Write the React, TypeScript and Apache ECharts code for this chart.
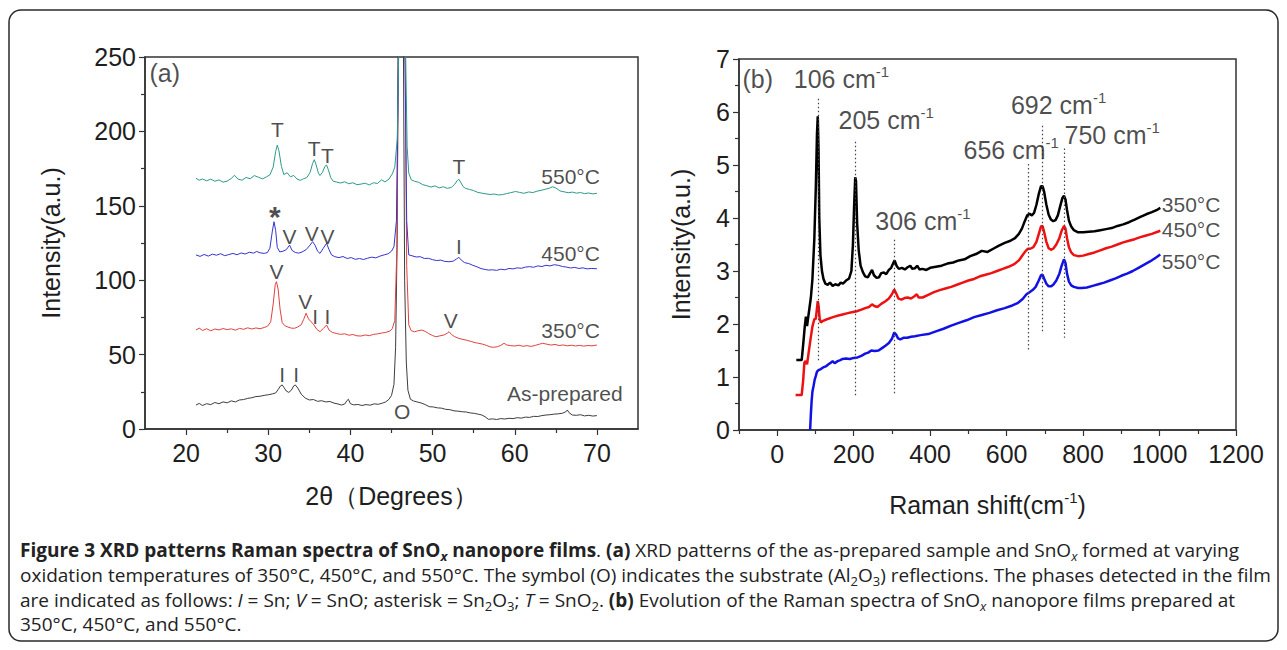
import React, { useEffect, useRef } from 'react';
import * as echarts from 'echarts';

// ---------------- Panel (a): XRD ----------------
const xrdXTicks = [20, 30, 40, 50, 60, 70];
const xrdXMinor = [25, 35, 45, 55, 65];

const xrdAsPrepared = [
  [21.2, 16.1], [21.6, 17.2], [22.0, 15.8], [22.5, 17.0], [23.0, 16.4], [23.5, 17.8], [24.0, 17.0], [24.5, 18.2],
  [25.0, 17.6], [25.5, 18.9], [26.0, 18.2], [26.5, 19.5], [27.0, 19.8], [27.5, 20.6], [28.0, 21.0], [28.5, 21.8],
  [29.0, 22.0], [29.5, 22.6], [30.0, 23.0], [30.5, 23.6], [30.9, 24.2], [31.2, 26.5], [31.5, 29.0], [31.7, 29.6],
  [31.9, 28.0], [32.2, 25.5], [32.5, 24.6], [32.8, 26.0], [33.1, 29.0], [33.3, 29.6], [33.6, 27.5], [34.0, 23.5],
  [34.5, 20.8], [35.0, 19.5], [35.5, 19.8], [36.0, 18.6], [36.5, 19.0], [37.0, 18.2], [37.5, 18.5], [38.0, 17.4],
  [38.5, 16.8], [38.9, 16.1], [39.3, 16.8], [39.6, 19.2], [39.75, 20.0], [40.0, 17.0], [40.4, 16.2], [40.9, 16.5],
  [41.4, 15.8], [41.9, 16.4], [42.4, 16.0], [42.9, 16.9], [43.4, 16.6], [43.9, 17.4], [44.3, 18.2], [44.7, 20.0],
  [45.0, 22.5], [45.3, 30], [45.5, 55], [45.7, 130], [45.9, 400], [46.1, 900], [46.3, 700], [46.45, 260],
  [46.6, 100], [46.8, 45], [47.0, 26], [47.3, 20.0], [47.7, 18.8], [48.1, 18.2], [48.6, 17.5], [49.1, 16.4],
  [49.6, 15.0], [50.1, 14.8], [50.6, 14.2], [51.1, 14.0], [51.6, 13.2], [52.1, 13.0], [52.6, 12.2], [53.1, 12.0],
  [53.6, 11.6], [54.1, 11.4], [54.6, 10.8], [55.1, 10.5], [55.6, 9.9], [56.0, 9.4], [56.4, 8.2], [56.8, 6.5],
  [57.3, 6.8], [57.8, 6.4], [58.3, 7.0], [58.8, 6.7], [59.3, 7.2], [59.8, 7.0], [60.3, 7.6], [60.8, 7.3],
  [61.3, 8.0], [61.8, 7.8], [62.3, 8.5], [62.8, 8.4], [63.3, 9.0], [63.8, 9.4], [64.3, 9.6], [64.8, 10.0],
  [65.3, 10.2], [65.8, 10.6], [66.2, 11.5], [66.4, 12.8], [66.6, 11.0], [67.0, 9.4], [67.5, 9.2], [68.0, 9.6],
  [68.5, 8.8], [69.0, 9.2], [69.5, 8.7], [70.0, 9.0],
];

const xrd350 = [
  [21.2, 66.5], [21.6, 67.8], [22.0, 66.2], [22.5, 67.4], [23.0, 66.0], [23.5, 67.2], [24.0, 66.6], [24.5, 67.5],
  [25.0, 66.8], [25.5, 67.3], [26.0, 66.4], [26.5, 67.6], [27.0, 67.0], [27.5, 68.0], [28.0, 67.2], [28.5, 67.9],
  [29.0, 67.4], [29.5, 68.2], [29.9, 69.0], [30.3, 72.0], [30.6, 84.0], [30.85, 97.0], [31.0, 99.0], [31.2, 94.0],
  [31.45, 80.0], [31.7, 71.5], [32.0, 69.5], [32.4, 68.5], [32.8, 67.8], [33.2, 67.7], [33.6, 68.6], [34.0, 70.0],
  [34.3, 73.5], [34.6, 77.8], [34.9, 74.0], [35.2, 72.1], [35.5, 70.5], [35.9, 67.0], [36.3, 65.4], [36.7, 67.5],
  [37.1, 69.9], [37.4, 66.5], [37.8, 64.9], [38.3, 64.2], [38.8, 63.6], [39.3, 64.0], [39.8, 63.0], [40.3, 63.5],
  [40.8, 62.6], [41.3, 62.5], [41.8, 63.2], [42.3, 62.7], [42.8, 63.6], [43.3, 63.9], [43.8, 64.5], [44.3, 64.9],
  [44.8, 65.8], [45.1, 67.5], [45.4, 73], [45.65, 120], [45.85, 250], [46.05, 520], [46.25, 640], [46.45, 520],
  [46.65, 250], [46.85, 110], [47.1, 70], [47.4, 66.1], [47.8, 65.3], [48.2, 66.0], [48.7, 66.5], [49.1, 65.6],
  [49.5, 64.2], [50.0, 62.8], [50.4, 62.0], [50.9, 62.6], [51.4, 63.2], [51.8, 64.4], [52.0, 65.4], [52.3, 63.5],
  [52.7, 62.0], [53.2, 60.9], [53.7, 60.2], [54.2, 59.6], [54.7, 58.8], [55.2, 58.0], [55.6, 57.6], [56.1, 57.0],
  [56.6, 56.1], [57.0, 55.2], [57.4, 54.9], [57.9, 55.3], [58.3, 56.2], [58.7, 57.6], [59.0, 56.5], [59.5, 56.0],
  [60.0, 55.8], [60.5, 56.3], [61.0, 55.6], [61.5, 56.0], [62.0, 55.5], [62.5, 56.2], [63.0, 57.0], [63.4, 57.6],
  [63.9, 57.0], [64.4, 56.4], [64.9, 56.8], [65.4, 56.1], [65.9, 56.5], [66.4, 55.9], [66.9, 56.3], [67.4, 55.8],
  [67.9, 56.2], [68.4, 55.7], [68.9, 56.1], [69.4, 55.9], [70.0, 56.4],
];

const xrd450 = [
  [21.2, 117.0], [21.7, 116.0], [22.2, 117.3], [22.7, 116.2], [23.2, 117.5], [23.7, 116.8], [24.2, 117.8], [24.7, 116.5],
  [25.2, 117.2], [25.7, 118.0], [26.2, 117.1], [26.7, 118.3], [27.2, 117.6], [27.7, 118.8], [28.2, 118.2], [28.6, 119.3],
  [29.0, 118.4], [29.5, 118.0], [29.9, 118.6], [30.2, 121.5], [30.5, 133.0], [30.7, 139.3], [30.9, 133.5], [31.1, 122.0],
  [31.4, 119.0], [31.8, 119.5], [32.2, 120.5], [32.6, 123.6], [32.9, 120.0], [33.3, 118.6], [33.7, 118.2], [34.1, 118.9],
  [34.6, 120.5], [35.0, 123.0], [35.4, 125.9], [35.7, 123.5], [36.0, 119.5], [36.3, 118.0], [36.7, 121.5], [37.1, 124.8],
  [37.4, 120.5], [37.7, 117.0], [38.1, 115.8], [38.6, 115.2], [39.1, 115.9], [39.6, 114.6], [40.1, 115.2], [40.6, 114.0],
  [41.1, 114.6], [41.6, 113.9], [42.1, 114.8], [42.6, 115.5], [43.1, 115.0], [43.6, 116.2], [44.1, 117.0], [44.6, 117.8],
  [45.0, 119.5], [45.3, 122.5], [45.6, 140], [45.85, 250], [46.05, 520], [46.25, 640], [46.45, 520], [46.65, 250],
  [46.85, 140], [47.1, 117.0], [47.5, 116.4], [48.0, 115.6], [48.5, 115.8], [49.0, 114.6], [49.5, 114.7], [50.0, 113.8],
  [50.5, 113.2], [51.0, 113.5], [51.5, 112.6], [52.0, 112.4], [52.5, 112.8], [52.9, 114.2], [53.2, 115.4], [53.5, 113.5],
  [53.9, 111.8], [54.4, 111.2], [54.9, 110.0], [55.4, 109.0], [55.9, 107.8], [56.4, 107.2], [56.8, 106.8], [57.3, 107.0],
  [57.8, 106.6], [58.3, 107.4], [58.8, 107.0], [59.3, 107.9], [59.8, 107.6], [60.3, 108.3], [60.8, 108.0], [61.3, 108.8],
  [61.8, 109.1], [62.3, 108.7], [62.8, 109.6], [63.3, 109.2], [63.8, 110.0], [64.3, 109.6], [64.8, 110.4], [65.3, 110.0],
  [65.8, 109.2], [66.3, 108.8], [66.8, 108.2], [67.3, 108.6], [67.8, 107.9], [68.3, 108.3], [68.8, 107.6], [69.3, 107.9],
  [70.0, 107.7],
];

const xrd550 = [
  [21.2, 168.5], [21.6, 167.2], [22.0, 168.0], [22.5, 166.8], [23.0, 167.9], [23.5, 166.5], [24.0, 167.4], [24.5, 165.9],
  [25.0, 166.6], [25.5, 168.4], [25.9, 170.5], [26.3, 168.0], [26.8, 167.2], [27.3, 169.0], [27.8, 168.2], [28.3, 170.3],
  [28.8, 169.2], [29.3, 168.1], [29.8, 169.5], [30.2, 170.8], [30.6, 176.0], [30.9, 186.5], [31.1, 190.8], [31.3, 187.0],
  [31.6, 176.5], [31.9, 171.0], [32.3, 172.2], [32.7, 169.5], [33.1, 170.4], [33.5, 168.0], [33.9, 167.1], [34.3, 168.2],
  [34.7, 169.0], [35.1, 172.5], [35.4, 178.5], [35.6, 181.0], [35.8, 178.0], [36.1, 172.0], [36.3, 170.4], [36.6, 172.5],
  [36.9, 176.5], [37.1, 177.4], [37.3, 174.5], [37.6, 169.0], [37.9, 166.5], [38.3, 166.0], [38.8, 165.3], [39.3, 166.1],
  [39.8, 164.8], [40.3, 165.5], [40.8, 164.2], [41.3, 164.6], [41.8, 165.2], [42.3, 164.0], [42.8, 165.5], [43.3, 165.0],
  [43.8, 167.5], [44.2, 166.0], [44.7, 168.0], [45.1, 171.5], [45.4, 176], [45.7, 195], [45.9, 260], [46.1, 520],
  [46.3, 640], [46.5, 520], [46.7, 260], [46.9, 190], [47.1, 172], [47.4, 167.5], [47.8, 166.5], [48.3, 165.8],
  [48.8, 164.2], [49.3, 163.5], [49.8, 162.6], [50.3, 163.4], [50.8, 162.0], [51.3, 162.8], [51.8, 161.7], [52.3, 162.4],
  [52.7, 164.5], [53.0, 167.0], [53.2, 167.8], [53.4, 166.0], [53.7, 163.0], [54.0, 161.7], [54.5, 161.0], [55.0, 160.2],
  [55.5, 159.0], [56.0, 158.5], [56.5, 158.0], [57.0, 157.6], [57.5, 157.9], [58.0, 157.3], [58.5, 157.5], [59.0, 158.2],
  [59.5, 158.8], [60.1, 159.6], [60.6, 159.0], [61.1, 158.4], [61.7, 159.3], [62.2, 158.9], [62.7, 159.8], [63.2, 160.4],
  [63.7, 161.1], [64.2, 161.8], [64.6, 162.8], [65.0, 162.0], [65.5, 160.0], [66.0, 159.4], [66.5, 158.8], [67.0, 159.2],
  [67.5, 158.5], [68.0, 158.9], [68.5, 158.2], [69.0, 158.6], [69.5, 158.0], [70.0, 158.4],
];

const xrdPeakLabels = [
  { name: 'T', value: [31.1, 201] },
  { name: 'T', value: [35.6, 188.6] },
  { name: 'T', value: [37.2, 184.1] },
  { name: 'T', value: [53.2, 176.3] },
  { name: 'V', value: [32.6, 129.2] },
  { name: 'V', value: [35.3, 131.5] },
  { name: 'V', value: [37.2, 129.2] },
  { name: 'I', value: [53.2, 122.5] },
  { name: 'V', value: [31.0, 105.7] },
  { name: 'V', value: [34.5, 85.5] },
  { name: 'I', value: [35.7, 75.9] },
  { name: 'I', value: [37.2, 75.9] },
  { name: 'V', value: [52.2, 73.2] },
  { name: 'I', value: [31.7, 36.3] },
  { name: 'I', value: [33.4, 36.3] },
  { name: 'O', value: [46.3, 11.6] },
];
const xrdStarLabel = [{ name: '*', value: [30.8, 143] }];
const xrdTempLabels = [
  { name: '550°C', value: [66.8, 169.6] },
  { name: '450°C', value: [66.8, 118] },
  { name: '350°C', value: [66.8, 66.5] },
  { name: 'As-prepared', value: [66.1, 24] },
];
const xrdPanelLabel = [{ name: '(a)', value: [17.4, 239] }];

// ---------------- Panel (b): Raman ----------------
const ramanXTicks = [0, 200, 400, 600, 800, 1000, 1200];
const ramanXMinor = [-100, 100, 300, 500, 700, 900, 1100];

const raman350 = [
  [50, 1.32], [64, 1.32], [68, 1.62], [72, 1.95], [75, 2.14], [78, 1.96], [82, 2.18], [88, 2.5], [92, 2.84], [97, 3.6],
  [101, 4.6], [104, 5.6], [106, 5.92], [108, 5.3], [110, 4.0], [113, 3.3], [117, 3.0], [121, 2.85], [126, 2.76],
  [132, 2.74], [138, 2.78], [145, 2.72], [152, 2.75], [160, 2.73], [166, 2.78], [172, 2.76], [180, 2.82], [188, 2.86],
  [194, 3.0], [198, 3.5], [201, 4.2], [204, 4.77], [206, 4.7], [209, 3.9], [213, 3.4], [218, 3.1], [224, 2.98],
  [230, 2.9], [237, 2.88], [243, 2.96], [248, 3.02], [253, 2.92], [260, 2.87], [266, 2.88], [272, 2.96], [279, 2.97],
  [285, 2.94], [292, 3.02], [298, 3.06], [303, 3.14], [307, 3.2], [312, 3.1], [318, 3.04], [326, 3.06], [334, 3.03],
  [341, 3.07], [348, 3.1], [353, 3.04], [360, 3.05], [366, 3.1], [372, 3.03], [380, 3.04], [390, 3.02], [400, 3.06],
  [415, 3.08], [430, 3.1], [445, 3.14], [460, 3.16], [475, 3.2], [490, 3.22], [505, 3.28], [520, 3.32], [535, 3.38],
  [550, 3.36], [565, 3.42], [580, 3.48], [595, 3.53], [610, 3.57], [622, 3.62], [632, 3.7], [640, 3.8], [648, 3.95],
  [654, 4.05], [660, 4.08], [666, 4.05], [672, 4.1], [678, 4.25], [684, 4.45], [690, 4.6], [694, 4.6], [698, 4.5],
  [704, 4.25], [710, 4.06], [716, 3.97], [722, 3.94], [728, 3.96], [734, 4.05], [740, 4.22], [746, 4.38], [750, 4.42],
  [754, 4.35], [758, 4.15], [763, 3.95], [769, 3.84], [776, 3.77], [787, 3.73], [800, 3.73], [815, 3.74], [830, 3.75],
  [845, 3.77], [860, 3.79], [875, 3.81], [890, 3.85], [905, 3.88], [920, 3.92], [935, 3.97], [950, 4.02], [965, 4.07],
  [980, 4.11], [995, 4.16], [1002, 4.19],
];

const raman450 = [
  [48, 0.66], [64, 0.66], [68, 0.95], [71, 1.27], [74, 1.3], [78, 1.24], [82, 1.45], [87, 1.71], [92, 1.95], [97, 2.09],
  [101, 2.1], [104, 2.3], [106, 2.43], [108, 2.35], [111, 2.1], [114, 2.03], [120, 2.06], [127, 2.08], [134, 2.1],
  [142, 2.12], [150, 2.14], [160, 2.16], [171, 2.18], [182, 2.2], [195, 2.22], [208, 2.24], [220, 2.27], [230, 2.3],
  [240, 2.32], [248, 2.37], [254, 2.34], [262, 2.32], [272, 2.38], [283, 2.43], [292, 2.48], [300, 2.56], [306, 2.65],
  [311, 2.58], [317, 2.48], [325, 2.46], [333, 2.49], [341, 2.5], [350, 2.48], [358, 2.52], [365, 2.56], [370, 2.5],
  [380, 2.5], [395, 2.55], [410, 2.6], [425, 2.64], [440, 2.67], [455, 2.7], [470, 2.74], [485, 2.78], [500, 2.82],
  [515, 2.85], [530, 2.9], [545, 2.93], [560, 2.96], [575, 3.0], [590, 3.04], [605, 3.08], [620, 3.13], [632, 3.2],
  [642, 3.3], [650, 3.38], [656, 3.42], [662, 3.42], [670, 3.45], [678, 3.55], [685, 3.72], [690, 3.84], [694, 3.85],
  [698, 3.74], [704, 3.55], [710, 3.43], [716, 3.4], [722, 3.42], [730, 3.5], [738, 3.62], [744, 3.76], [750, 3.85],
  [754, 3.8], [758, 3.62], [763, 3.45], [769, 3.35], [776, 3.3], [787, 3.28], [800, 3.29], [815, 3.32], [830, 3.35],
  [845, 3.39], [860, 3.43], [875, 3.46], [890, 3.5], [905, 3.54], [920, 3.57], [935, 3.6], [950, 3.64], [965, 3.67],
  [980, 3.7], [995, 3.74], [1002, 3.76],
];

const raman550 = [
  [86, 0], [88, 0.3], [90, 0.55], [92, 0.72], [95, 0.83], [98, 0.95], [101, 1.02], [104, 1.1], [108, 1.13], [114, 1.15],
  [120, 1.18], [127, 1.2], [134, 1.24], [140, 1.27], [145, 1.3], [150, 1.26], [158, 1.3], [165, 1.32], [171, 1.34],
  [180, 1.35], [190, 1.34], [200, 1.36], [210, 1.37], [220, 1.4], [230, 1.44], [238, 1.46], [246, 1.5], [255, 1.49],
  [265, 1.5], [275, 1.55], [283, 1.59], [292, 1.64], [300, 1.72], [306, 1.84], [311, 1.8], [316, 1.73], [322, 1.71],
  [330, 1.74], [340, 1.74], [350, 1.76], [360, 1.77], [375, 1.79], [395, 1.81], [415, 1.86], [435, 1.91], [455, 1.97],
  [475, 2.02], [495, 2.07], [515, 2.13], [535, 2.17], [555, 2.21], [575, 2.26], [595, 2.3], [615, 2.35], [630, 2.4],
  [642, 2.47], [652, 2.56], [660, 2.6], [668, 2.64], [676, 2.7], [684, 2.82], [690, 2.92], [694, 2.93], [698, 2.86],
  [704, 2.76], [710, 2.71], [716, 2.71], [722, 2.74], [730, 2.82], [738, 2.95], [744, 3.1], [750, 3.22], [754, 3.15],
  [758, 2.95], [763, 2.8], [769, 2.73], [776, 2.7], [787, 2.68], [797, 2.68], [810, 2.69], [825, 2.72], [840, 2.75],
  [855, 2.78], [870, 2.82], [885, 2.86], [900, 2.91], [915, 2.95], [930, 3.0], [945, 3.06], [960, 3.12], [975, 3.18],
  [990, 3.25], [1002, 3.31],
];

// [position, top, bottom]
const ramanRefLines = [
  [106, 6.25, 1.27], [205, 5.44, 0.65], [306, 3.59, 0.65], [656, 5.02, 1.52], [692, 5.74, 1.84], [750, 5.31, 1.74],
];
const ramanPeakLabels = [
  { name: '106', value: [168, 6.62] },
  { name: '205', value: [285, 5.85] },
  { name: '306', value: [381, 3.94] },
  { name: '656', value: [612, 5.28] },
  { name: '692', value: [736, 6.14] },
  { name: '750', value: [876, 5.56] },
];
const ramanTempLabels = [
  { name: '350°C', value: [1006, 4.26] },
  { name: '450°C', value: [1006, 3.78] },
  { name: '550°C', value: [1006, 3.18] },
];
const ramanPanelLabel = [{ name: '(b)', value: [-51, 6.62] }];

// ---------------- Caption ----------------
const captionLines = [
  '{b|Figure 3 XRD patterns Raman spectra of SnO}{bsub|x}{b| nanopore films}. {b|(a)} XRD patterns of the as-prepared sample and SnO{isub|x} formed at varying',
  'oxidation temperatures of 350°C, 450°C, and 550°C. The symbol (O) indicates the substrate (Al{sub|2}O{sub|3}) reflections. The phases detected in the film',
  'are indicated as follows: {i|I} = Sn; {i|V} = SnO; asterisk = Sn{sub|2}O{sub|3}; {i|T} = SnO{sub|2}. {b|(b)} Evolution of the Raman spectra of SnO{isub|x} nanopore films prepared at',
  '350°C, 450°C, and 550°C.',
];

const FONT = 'Liberation Sans, Arial, sans-serif';
const CAP_FONT = 'Open Sans, Noto Sans, sans-serif';
const AX = '#333';
const TXT = '#1e1e1e';

function labelSeries(data: any[], xi: number, yi: number, fontSize: number, extra: any = {}) {
  return {
    type: 'scatter',
    xAxisIndex: xi,
    yAxisIndex: yi,
    data,
    symbolSize: 1,
    itemStyle: { color: 'transparent' },
    silent: true,
    clip: false,
    z: 5,
    label: {
      show: true,
      position: 'inside',
      formatter: (p: any) => p.name,
      fontSize,
      fontFamily: FONT,
      color: TXT,
      ...extra,
    },
  };
}

export default function App() {
  const ref = useRef<HTMLDivElement>(null);
  useEffect(() => {
    if (!ref.current) return;
    const chart = echarts.init(ref.current, undefined, { renderer: 'svg' });
    const tickStyle = { color: AX, width: 1.2 };
    const axLabel = { fontSize: 25, color: TXT, fontFamily: FONT, formatter: (v: number) => String(v) };
    const capSize = 19;
    const capRich = {
      b: { fontSize: capSize, fontFamily: CAP_FONT, fontWeight: 'bold', fill: '#222', lineHeight: 24 },
      i: { fontSize: capSize, fontFamily: CAP_FONT, fontStyle: 'italic', fill: '#222', lineHeight: 24 },
      sub: { fontSize: 13, fontFamily: CAP_FONT, fill: '#222', lineHeight: 16, verticalAlign: 'bottom' },
      bsub: { fontSize: 13, fontFamily: CAP_FONT, fontWeight: 'bold', fontStyle: 'italic', fill: '#222', lineHeight: 16, verticalAlign: 'bottom' },
      isub: { fontSize: 13, fontFamily: CAP_FONT, fontStyle: 'italic', fill: '#222', lineHeight: 16, verticalAlign: 'bottom' },
    };
    const supRich = {
      sup: { fontSize: 15, fontFamily: FONT, color: TXT, lineHeight: 14, verticalAlign: 'top' },
    };

    chart.setOption({
      animation: false,
      backgroundColor: '#fff',
      textStyle: { fontFamily: FONT },
      grid: [
        { left: 145, top: 57, width: 493, height: 372, show: true, borderColor: AX, borderWidth: 1.5, backgroundColor: 'transparent' },
        { left: 739, top: 59, width: 497, height: 371, show: true, borderColor: AX, borderWidth: 1.5, backgroundColor: 'transparent' },
      ],
      xAxis: [
        {
          gridIndex: 0, type: 'value', min: 15, max: 75, position: 'bottom',
          axisLine: { show: true, onZero: false, lineStyle: { color: AX, width: 1.5 } },
          axisTick: { show: true, customValues: xrdXTicks, length: 6, lineStyle: tickStyle },
          axisLabel: { ...axLabel, customValues: xrdXTicks, margin: 11 },
          splitLine: { show: false },
          name: '2θ（Degrees）', nameLocation: 'middle', nameGap: 54,
          nameTextStyle: { fontSize: 25, fontFamily: FONT, color: TXT },
        },
        {
          gridIndex: 0, type: 'value', min: 15, max: 75, position: 'bottom',
          axisLine: { show: false },
          axisTick: { show: true, customValues: xrdXMinor, length: 4, lineStyle: tickStyle },
          axisLabel: { show: false },
          splitLine: { show: false },
        },
        {
          gridIndex: 1, type: 'value', min: -100, max: 1200, position: 'bottom',
          axisLine: { show: true, onZero: false, lineStyle: { color: AX, width: 1.5 } },
          axisTick: { show: true, customValues: ramanXTicks, length: 6, lineStyle: tickStyle },
          axisLabel: { ...axLabel, customValues: ramanXTicks, margin: 11 },
          splitLine: { show: false },
          name: 'Raman shift(cm{sup|-1})', nameLocation: 'middle', nameGap: 60,
          nameTextStyle: { fontSize: 25, fontFamily: FONT, color: TXT, lineHeight: 30, rich: supRich },
        },
        {
          gridIndex: 1, type: 'value', min: -100, max: 1200, position: 'bottom',
          axisLine: { show: false },
          axisTick: { show: true, customValues: ramanXMinor, length: 4, lineStyle: tickStyle },
          axisLabel: { show: false },
          splitLine: { show: false },
        },
      ],
      yAxis: [
        {
          gridIndex: 0, type: 'value', min: 0, max: 250, interval: 50,
          axisLine: { show: true, onZero: false, lineStyle: { color: AX, width: 1.5 } },
          axisTick: { show: true, length: 6, lineStyle: tickStyle },
          minorTick: { show: true, splitNumber: 2, length: 4, lineStyle: tickStyle },
          axisLabel: { ...axLabel, margin: 9 },
          splitLine: { show: false },
          name: 'Intensity(a.u.)', nameLocation: 'middle', nameGap: 82,
          nameTextStyle: { fontSize: 25, fontFamily: FONT, color: TXT },
        },
        {
          gridIndex: 1, type: 'value', min: 0, max: 7, interval: 1,
          axisLine: { show: true, onZero: false, lineStyle: { color: AX, width: 1.5 } },
          axisTick: { show: true, length: 6, lineStyle: tickStyle },
          minorTick: { show: true, splitNumber: 2, length: 4, lineStyle: tickStyle },
          axisLabel: { ...axLabel, margin: 9 },
          splitLine: { show: false },
          name: 'Intensity(a.u.)', nameLocation: 'middle', nameGap: 46,
          nameTextStyle: { fontSize: 25, fontFamily: FONT, color: TXT },
        },
      ],
      series: [
        { type: 'line', name: 'As-prepared', xAxisIndex: 0, yAxisIndex: 0, data: xrdAsPrepared, showSymbol: false, lineStyle: { color: '#3d3d3d', width: 1 }, itemStyle: { color: '#3d3d3d' } },
        { type: 'line', name: '350°C', xAxisIndex: 0, yAxisIndex: 0, data: xrd350, showSymbol: false, lineStyle: { color: '#e0413f', width: 1 }, itemStyle: { color: '#e0413f' } },
        { type: 'line', name: '450°C', xAxisIndex: 0, yAxisIndex: 0, data: xrd450, showSymbol: false, lineStyle: { color: '#3434d2', width: 1 }, itemStyle: { color: '#3434d2' } },
        { type: 'line', name: '550°C', xAxisIndex: 0, yAxisIndex: 0, data: xrd550, showSymbol: false, lineStyle: { color: '#2d9a8b', width: 1 }, itemStyle: { color: '#2d9a8b' } },
        labelSeries(xrdPeakLabels, 0, 0, 21),
        labelSeries(xrdStarLabel, 0, 0, 30, { fontWeight: 'bold' }),
        labelSeries(xrdTempLabels, 0, 0, 21),
        labelSeries(xrdPanelLabel, 0, 0, 25),

        {
          type: 'line', name: 'raman350', xAxisIndex: 2, yAxisIndex: 1, data: raman350, showSymbol: false,
          lineStyle: { color: '#000', width: 2.5 }, itemStyle: { color: '#000' }, z: 3,
          markLine: {
            silent: true, symbol: ['none', 'none'], label: { show: false },
            lineStyle: { type: [1.5, 2.5], color: '#444', width: 1.2 },
            data: ramanRefLines.map((r) => [{ coord: [r[0], r[1]] }, { coord: [r[0], r[2]] }]),
          },
        },
        { type: 'line', name: 'raman450', xAxisIndex: 2, yAxisIndex: 1, data: raman450, showSymbol: false, lineStyle: { color: '#ee1111', width: 2.5 }, itemStyle: { color: '#ee1111' }, z: 3 },
        { type: 'line', name: 'raman550', xAxisIndex: 2, yAxisIndex: 1, data: raman550, showSymbol: false, lineStyle: { color: '#1111e6', width: 2.5 }, itemStyle: { color: '#1111e6' }, z: 3 },
        labelSeries(ramanPeakLabels, 2, 1, 25, {
          formatter: (p: any) => p.name + ' cm{sup|-1}', lineHeight: 30, rich: supRich,
        }),
        labelSeries(ramanTempLabels, 2, 1, 21, { align: 'left' }),
        labelSeries(ramanPanelLabel, 2, 1, 25),
      ],
      graphic: [
        {
          type: 'rect', silent: true, z: -10,
          shape: { x: 9, y: 10, width: 1269, height: 631, r: 12 },
          style: { fill: 'none', stroke: '#2a2a2a', lineWidth: 1.5 },
        },
        ...captionLines.map((t, i) => ({
          type: 'text', silent: true,
          x: 20, y: [550, 575, 600, 624][i],
          style: {
            text: t, fill: '#222', fontSize: capSize, fontFamily: CAP_FONT, lineHeight: 24,
            verticalAlign: 'middle', align: 'left', rich: capRich,
          },
        })),
      ],
    });
    return () => chart.dispose();
  }, []);
  return (
    <div
      ref={ref}
      style={{ position: 'fixed', left: 0, top: 0, width: 1287, height: 650, background: '#fff' }}
    />
  );
}
